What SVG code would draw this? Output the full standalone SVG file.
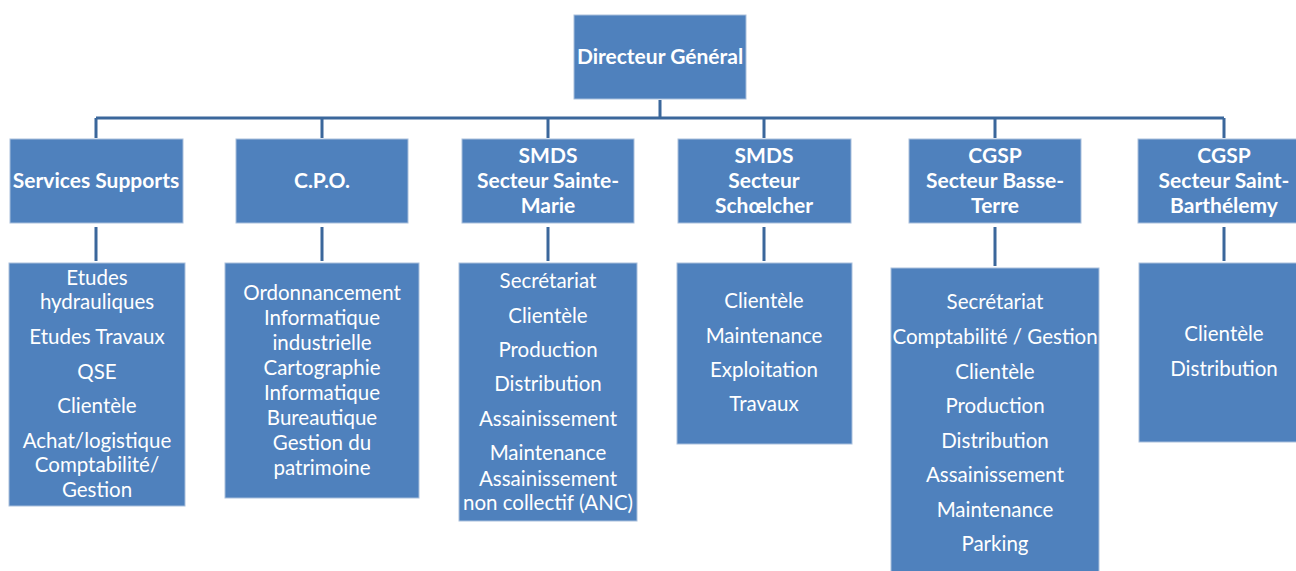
<svg xmlns="http://www.w3.org/2000/svg" width="1296" height="571" viewBox="0 0 1296 571">
<style>
.box{fill:#4f81bd;stroke:#a9bfdc;stroke-width:1}
.t{font-family:Lato,"Open Sans",sans-serif;fill:#ffffff;text-anchor:middle;font-size:20.5px}
.b{font-weight:bold;font-size:21px}
.c{stroke:#3b679b;stroke-width:3;fill:none}
</style>
<rect width="1296" height="571" fill="#ffffff"/>
<g id="connectors">
<path class="c" d="M660 100V118M96 118H1224M96 118V138M322 118V138M548 118V138M764 118V138M995 118V138M1224 118V138"/>
<path class="c" d="M96 227V261M322 227V261M548 227V261M764 227V261M995 227V266M1224 227V261"/>
</g>
<g id="dg">
<rect class="box" x="574" y="15" width="172" height="84"/>
<text class="t b" x="660" y="64">Directeur Général</text>
</g>
<g id="services-supports">
<rect class="box" x="10" y="139" width="173" height="84"/>
<text class="t b" x="96" y="188">Services Supports</text>
</g>
<g id="cpo">
<rect class="box" x="236" y="139" width="172" height="84"/>
<text class="t b" x="322" y="188">C.P.O.</text>
</g>
<g id="smds-sainte-marie">
<rect class="box" x="462" y="139" width="172" height="84"/>
<text class="t b" x="548" y="163">SMDS</text>
<text class="t b" x="548" y="188">Secteur Sainte-</text>
<text class="t b" x="548" y="213">Marie</text>
</g>
<g id="smds-schoelcher">
<rect class="box" x="678" y="139" width="173" height="84"/>
<text class="t b" x="764" y="163">SMDS</text>
<text class="t b" x="764" y="188">Secteur</text>
<text class="t b" x="764" y="213">Schœlcher</text>
</g>
<g id="cgsp-basse-terre">
<rect class="box" x="909" y="139" width="172" height="84"/>
<text class="t b" x="995" y="163">CGSP</text>
<text class="t b" x="995" y="188">Secteur Basse-</text>
<text class="t b" x="995" y="213">Terre</text>
</g>
<g id="cgsp-saint-barthelemy">
<rect class="box" x="1138" y="139" width="172" height="84"/>
<text class="t b" x="1224" y="163">CGSP</text>
<text class="t b" x="1224" y="188">Secteur Saint-</text>
<text class="t b" x="1224" y="213">Barthélemy</text>
</g>
<g id="services-supports-list">
<rect class="box" x="9" y="263" width="176" height="243"/>
<text class="t" x="97" y="285">Etudes</text>
<text class="t" x="97" y="309">hydrauliques</text>
<text class="t" x="97" y="344">Etudes Travaux</text>
<text class="t" x="97" y="379">QSE</text>
<text class="t" x="97" y="413">Clientèle</text>
<text class="t" x="97" y="448">Achat/logistique</text>
<text class="t" x="97" y="472">Comptabilité/</text>
<text class="t" x="97" y="497">Gestion</text>
</g>
<g id="cpo-list">
<rect class="box" x="225" y="263" width="194" height="235"/>
<text class="t" x="322" y="300">Ordonnancement</text>
<text class="t" x="322" y="325">Informatique</text>
<text class="t" x="322" y="350">industrielle</text>
<text class="t" x="322" y="375">Cartographie</text>
<text class="t" x="322" y="400">Informatique</text>
<text class="t" x="322" y="425">Bureautique</text>
<text class="t" x="322" y="450">Gestion du</text>
<text class="t" x="322" y="475">patrimoine</text>
</g>
<g id="smds-sainte-marie-list">
<rect class="box" x="459" y="263" width="178" height="258"/>
<text class="t" x="548" y="288">Secrétariat</text>
<text class="t" x="548" y="323">Clientèle</text>
<text class="t" x="548" y="357">Production</text>
<text class="t" x="548" y="391">Distribution</text>
<text class="t" x="548" y="426">Assainissement</text>
<text class="t" x="548" y="460">Maintenance</text>
<text class="t" x="548" y="486">Assainissement</text>
<text class="t" x="548" y="510">non collectif (ANC)</text>
</g>
<g id="smds-schoelcher-list">
<rect class="box" x="677" y="263" width="175" height="181"/>
<text class="t" x="764" y="308">Clientèle</text>
<text class="t" x="764" y="343">Maintenance</text>
<text class="t" x="764" y="377">Exploitation</text>
<text class="t" x="764" y="411">Travaux</text>
</g>
<g id="cgsp-basse-terre-list">
<rect class="box" x="891" y="268" width="208" height="310"/>
<text class="t" x="995" y="309">Secrétariat</text>
<text class="t" x="995" y="344">Comptabilité / Gestion</text>
<text class="t" x="995" y="379">Clientèle</text>
<text class="t" x="995" y="413">Production</text>
<text class="t" x="995" y="448">Distribution</text>
<text class="t" x="995" y="482">Assainissement</text>
<text class="t" x="995" y="517">Maintenance</text>
<text class="t" x="995" y="551">Parking</text>
</g>
<g id="cgsp-saint-barthelemy-list">
<rect class="box" x="1139" y="263" width="172" height="179"/>
<text class="t" x="1224" y="341">Clientèle</text>
<text class="t" x="1224" y="376">Distribution</text>
</g>
</svg>
